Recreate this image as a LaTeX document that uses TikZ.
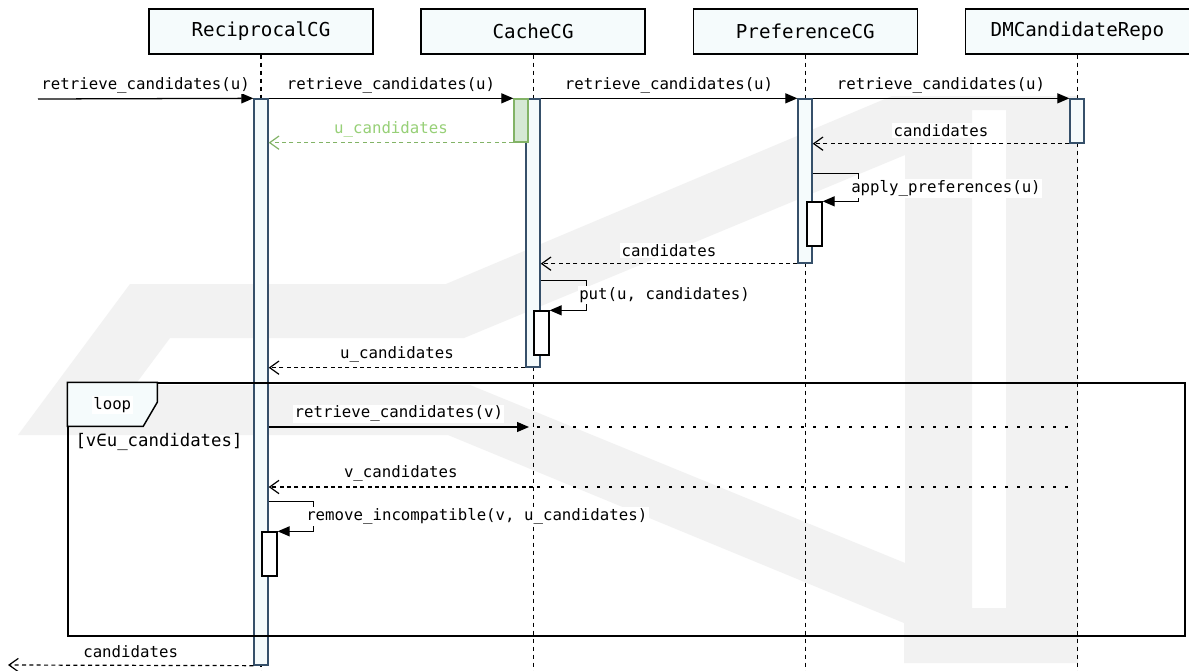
\documentclass[tikz,border=0pt]{standalone}
\usepackage{fontspec}
\setmonofont{DejaVu Sans Mono}
\usepackage{xcolor}
\usepackage{tikz}
\usetikzlibrary{positioning}
\usetikzlibrary{calc}
\usetikzlibrary{fit}
\usetikzlibrary{arrows.meta}

\definecolor{headfill}{HTML}{F5FBFC}
\definecolor{actline}{HTML}{36506A}
\definecolor{hitfill}{HTML}{D5E8D4}
\definecolor{hitline}{HTML}{82B366}
\definecolor{hittext}{HTML}{97D077}
\definecolor{wmgray}{HTML}{F2F2F2}

\newcommand\lblfont{\ttfamily\fontsize{11.8}{14}\selectfont}
\newcommand\headfont{\ttfamily\fontsize{14.4}{17}\selectfont}
\newcommand\guardfont{\ttfamily\fontsize{13}{15}\selectfont}

\begin{document}
\begin{tikzpicture}[x=0.75pt, y=-0.75pt,
    head/.style={draw=black, line width=1.1pt, fill=headfill, minimum width=168pt, minimum height=33.75pt, inner sep=0pt, font=\headfont},
    act/.style={draw=actline, line width=1pt, fill=headfill, inner sep=0pt},
    nest/.style={draw=black, line width=1pt, fill=white, inner sep=0pt},
    hit/.style={draw=hitline, line width=1pt, fill=hitfill, inner sep=0pt},
    life/.style={draw=black, line width=0.9pt, dash pattern=on 3.5pt off 2.5pt},
    call/.style={draw=black, line width=0.95pt, -{Triangle[length=9pt,width=7.5pt]}},
    ret/.style={draw=black, line width=0.9pt, dash pattern=on 3pt off 2.5pt, -{Straight Barb[length=7pt,width=10pt]}},
    ext/.style={draw=black, line width=2pt, dash pattern=on 2pt off 7pt},
    lbl/.style={fill=white, inner sep=1pt, font=\lblfont},
    loopframe/.style={draw=black, line width=1.1pt, inner sep=0pt}
]
\path[use as bounding box, fill=white] (0,0) rectangle (1189,671);

\fill[wmgray, even odd rule]
    (18,435) -- (130,284) -- (446,284) -- (892,96) -- (1078,96) -- (1078,663) -- (904,663) -- (904,623) -- (448,435) -- cycle
    (170,338) -- (464,338) -- (905,155) -- (905,563) -- (470,385) -- (135,385) -- cycle
    (972,110) -- (1006,110) -- (1006,608) -- (972,608) -- cycle;

\node[head] (rcg) at (261,31.5) {ReciprocalCG};
\node[head, right=35pt of rcg] (ccg) {CacheCG};
\node[head, right=35pt of ccg] (pcg) {PreferenceCG};
\node[head, right=35pt of pcg] (dmr) {DMCandidateRepo};

\coordinate (bot) at (0,671);
\draw[life] (rcg.south) -- (rcg.south |- bot);
\draw[life] (ccg.south) -- (ccg.south |- bot);
\draw[life] (pcg.south) -- (pcg.south |- bot);
\draw[life] (dmr.south) -- (dmr.south |- bot);

\node[act, fit={(254,99) (268,665)}] (rcgact) {};
\node[act, fit={(526,99) (540,367)}] (ccgact) {};
\node[hit, fit={(514,99) (528,142)}] (ccghit) {};
\node[act, fit={(798,99) (812,263)}] (pcgact) {};
\node[act, fit={(1070,99) (1084,143)}] (dmract) {};
\node[nest, fit={(807,202) (822,246)}] (pcgself) {};
\node[nest, fit={(534,311) (549,355)}] (ccgself) {};
\node[nest, fit={(262,532) (277,576)}] (rcgself) {};

\node[loopframe, fit={(68,383) (1185,636)}] (loopbox) {};
\draw[loopframe, fill=headfill] (loopbox.north west) -- ++(90,0) -- ++(0,20) -- ++(-14,24) -| (loopbox.north west) -- cycle;
\node[lbl] (looplbl) at ($(loopbox.north west)+(45,23)$) {loop};
\node[font=\guardfont, anchor=west, inner sep=0pt] (guard) at ($(loopbox.north west)+(8,60)$) {[v∈u\_candidates]};

\coordinate (in) at (38,99);
\draw[call] (in) -- (rcgact.north west) node[lbl, midway, yshift=10pt] (m1lbl) {retrieve\_candidates(u)};
\draw[call] (rcgact.north east) -- (ccghit.north west) node[lbl, midway, yshift=10pt] (m2lbl) {retrieve\_candidates(u)};
\draw[call] (ccgact.north east) -- (pcgact.north west) node[lbl, midway, yshift=10pt] (m3lbl) {retrieve\_candidates(u)};
\draw[call] (pcgact.north east) -- (dmract.north west) node[lbl, midway, yshift=10pt] (m4lbl) {retrieve\_candidates(u)};

\draw[ret, draw=hitline] (ccghit.south west) -- (rcgact.east |- ccghit.south) node[lbl, midway, yshift=10pt, text=hittext] (hitlbl) {u\_candidates};
\draw[ret] (dmract.south west) -- (pcgact.east |- dmract.south) node[lbl, midway, yshift=10pt] (r1lbl) {candidates};

\draw[call] (pcgself.north east) ++(-10,-28) -- ++(46,0) |- (pcgself.north east);
\node[lbl, anchor=west] (aplbl) at ($(pcgself.north east)+(27,-13)$) {apply\_preferences(u)};

\draw[ret] (pcgact.south west) -- (ccgact.east |- pcgact.south) node[lbl, midway, yshift=10pt] (r2lbl) {candidates};

\draw[call] (ccgself.north east) ++(-9,-30) -- ++(46,0) |- (ccgself.north east);
\node[lbl, anchor=west] (putlbl) at ($(ccgself.north east)+(28,-15)$) {put(u, candidates)};

\draw[ret] (ccgact.south west) -- (rcgact.east |- ccgact.south) node[lbl, midway, yshift=10pt] (r3lbl) {u\_candidates};

\coordinate (rvc) at (529,427);
\coordinate (rvd) at (1068,427);
\draw[call] (rcgact.east |- rvc) -- (rvc) node[lbl, midway, yshift=10pt] (rvlbl) {retrieve\_candidates(v)};
\draw[ext] ([xshift=6pt]rvc) -- (rvd);

\coordinate (vcc) at (533,487);
\coordinate (vcd) at (1068,487);
\draw[ext] (vcd) -- ([xshift=3pt]vcc);
\draw[ret] (vcc) -- (rcgact.east |- vcc) node[lbl, midway, yshift=10pt] (vclbl) {v\_candidates};

\draw[call] (rcgself.north east) ++(-9,-30) -- ++(45,0) |- (rcgself.north east);
\node[lbl, anchor=west] (rmlbl) at ($(rcgself.north east)+(27,-15)$) {remove\_incompatible(v, u\_candidates)};

\coordinate (out) at (8,665);
\draw[ret] (rcgact.south west) -- (out) node[lbl, midway, yshift=10pt] (outlbl) {candidates};
\end{tikzpicture}
\end{document}
